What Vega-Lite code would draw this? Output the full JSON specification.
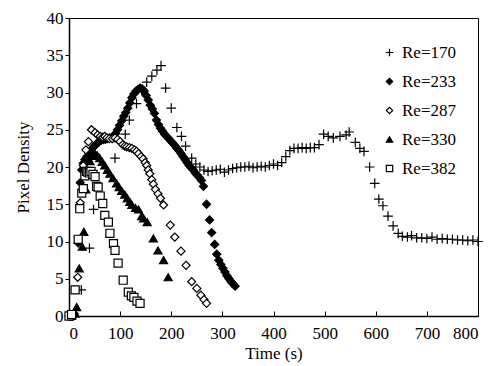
{
  "$schema": "https://vega.github.io/schema/vega-lite/v6.json",
  "width": 409,
  "height": 298,
  "autosize": "none",
  "padding": {"left": 69, "top": 18, "right": 15, "bottom": 50},
  "background": "white",
  "config": {
    "font": "Times New Roman",
    "view": {"stroke": "black", "strokeWidth": 1},
    "style": {"guide-label": {"font": "Times New Roman", "fontSize": 17, "fill": "black"}, "guide-title": {"font": "Times New Roman", "fontSize": 17, "fill": "black", "fontWeight": "normal"}},
    "axis": {"grid": false, "labelFontSize": 17, "titleFontSize": 17, "titleFontWeight": "normal", "labelColor": "black", "titleColor": "black", "domainColor": "black", "domainWidth": 1.5, "tickColor": "black", "labelFont": "Times New Roman", "titleFont": "Times New Roman"},
    "legend": {"labelFontSize": 17, "labelFont": "Times New Roman", "labelColor": "black"}
  },
  "data": {"values": [
    {"s":"Re=170","t":0,"v":0},{"s":"Re=170","t":6,"v":0},{"s":"Re=170","t":10,"v":0.1},{"s":"Re=170","t":24,"v":3.5},{"s":"Re=170","t":40,"v":9.1},{"s":"Re=170","t":48,"v":14.3},{"s":"Re=170","t":90,"v":21.2},{"s":"Re=170","t":110,"v":24.4},{"s":"Re=170","t":118,"v":26.3},{"s":"Re=170","t":132,"v":28.5},{"s":"Re=170","t":142,"v":30.3},{"s":"Re=170","t":152,"v":31.4},{"s":"Re=170","t":162,"v":32.2},{"s":"Re=170","t":172,"v":33.0},{"s":"Re=170","t":180,"v":33.6},{"s":"Re=170","t":189,"v":30.6},{"s":"Re=170","t":200,"v":27.9},{"s":"Re=170","t":211,"v":25.3},{"s":"Re=170","t":220,"v":24.1},{"s":"Re=170","t":228,"v":22.8},{"s":"Re=170","t":240,"v":21.2},{"s":"Re=170","t":248,"v":20.4},{"s":"Re=170","t":256,"v":20.0},{"s":"Re=170","t":264,"v":19.6},{"s":"Re=170","t":272,"v":19.4},{"s":"Re=170","t":280,"v":19.5},{"s":"Re=170","t":288,"v":19.6},{"s":"Re=170","t":296,"v":19.7},{"s":"Re=170","t":304,"v":19.3},{"s":"Re=170","t":312,"v":19.6},{"s":"Re=170","t":320,"v":19.8},{"s":"Re=170","t":328,"v":19.9},{"s":"Re=170","t":336,"v":20.0},{"s":"Re=170","t":344,"v":20.0},{"s":"Re=170","t":352,"v":20.1},{"s":"Re=170","t":360,"v":19.9},{"s":"Re=170","t":368,"v":20.0},{"s":"Re=170","t":376,"v":20.1},{"s":"Re=170","t":384,"v":20.0},{"s":"Re=170","t":392,"v":20.2},{"s":"Re=170","t":400,"v":20.4},{"s":"Re=170","t":408,"v":20.2},{"s":"Re=170","t":416,"v":20.6},{"s":"Re=170","t":424,"v":21.4},{"s":"Re=170","t":432,"v":22.2},{"s":"Re=170","t":440,"v":22.5},{"s":"Re=170","t":448,"v":22.5},{"s":"Re=170","t":456,"v":22.6},{"s":"Re=170","t":464,"v":22.5},{"s":"Re=170","t":472,"v":22.6},{"s":"Re=170","t":480,"v":22.6},{"s":"Re=170","t":489,"v":23.0},{"s":"Re=170","t":498,"v":24.4},{"s":"Re=170","t":507,"v":24.1},{"s":"Re=170","t":517,"v":23.9},{"s":"Re=170","t":530,"v":24.1},{"s":"Re=170","t":542,"v":24.3},{"s":"Re=170","t":548,"v":24.7},{"s":"Re=170","t":560,"v":23.3},{"s":"Re=170","t":569,"v":22.5},{"s":"Re=170","t":577,"v":22.1},{"s":"Re=170","t":588,"v":20.0},{"s":"Re=170","t":598,"v":17.8},{"s":"Re=170","t":606,"v":15.7},{"s":"Re=170","t":614,"v":14.8},{"s":"Re=170","t":624,"v":13.4},{"s":"Re=170","t":634,"v":12.1},{"s":"Re=170","t":644,"v":11.1},{"s":"Re=170","t":652,"v":10.7},{"s":"Re=170","t":662,"v":10.6},{"s":"Re=170","t":670,"v":10.8},{"s":"Re=170","t":680,"v":10.5},{"s":"Re=170","t":690,"v":10.5},{"s":"Re=170","t":700,"v":10.4},{"s":"Re=170","t":710,"v":10.6},{"s":"Re=170","t":720,"v":10.3},{"s":"Re=170","t":730,"v":10.4},{"s":"Re=170","t":740,"v":10.3},{"s":"Re=170","t":750,"v":10.3},{"s":"Re=170","t":760,"v":10.2},{"s":"Re=170","t":770,"v":10.2},{"s":"Re=170","t":780,"v":10.1},{"s":"Re=170","t":790,"v":10.2},{"s":"Re=170","t":800,"v":10.0},
    {"s":"Re=233","t":2,"v":0},{"s":"Re=233","t":8,"v":0},{"s":"Re=233","t":18,"v":9.8},{"s":"Re=233","t":22,"v":17.9},{"s":"Re=233","t":25,"v":19.6},{"s":"Re=233","t":28,"v":20.5},{"s":"Re=233","t":31,"v":21.0},{"s":"Re=233","t":35,"v":21.4},{"s":"Re=233","t":39,"v":21.8},{"s":"Re=233","t":43,"v":22.2},{"s":"Re=233","t":47,"v":22.6},{"s":"Re=233","t":51,"v":22.9},{"s":"Re=233","t":55,"v":23.2},{"s":"Re=233","t":59,"v":23.4},{"s":"Re=233","t":63,"v":23.6},{"s":"Re=233","t":67,"v":23.7},{"s":"Re=233","t":71,"v":23.7},{"s":"Re=233","t":75,"v":23.8},{"s":"Re=233","t":79,"v":23.9},{"s":"Re=233","t":83,"v":23.9},{"s":"Re=233","t":87,"v":24.1},{"s":"Re=233","t":91,"v":24.5},{"s":"Re=233","t":95,"v":25.0},{"s":"Re=233","t":99,"v":25.6},{"s":"Re=233","t":103,"v":26.2},{"s":"Re=233","t":107,"v":26.8},{"s":"Re=233","t":111,"v":27.3},{"s":"Re=233","t":115,"v":27.9},{"s":"Re=233","t":119,"v":28.6},{"s":"Re=233","t":123,"v":29.3},{"s":"Re=233","t":127,"v":29.8},{"s":"Re=233","t":131,"v":30.2},{"s":"Re=233","t":135,"v":30.4},{"s":"Re=233","t":139,"v":30.6},{"s":"Re=233","t":143,"v":30.5},{"s":"Re=233","t":147,"v":30.2},{"s":"Re=233","t":151,"v":29.6},{"s":"Re=233","t":155,"v":29.0},{"s":"Re=233","t":159,"v":28.3},{"s":"Re=233","t":163,"v":27.8},{"s":"Re=233","t":167,"v":27.2},{"s":"Re=233","t":171,"v":26.3},{"s":"Re=233","t":175,"v":25.7},{"s":"Re=233","t":179,"v":25.2},{"s":"Re=233","t":183,"v":24.8},{"s":"Re=233","t":187,"v":24.4},{"s":"Re=233","t":191,"v":24.1},{"s":"Re=233","t":195,"v":23.8},{"s":"Re=233","t":199,"v":23.5},{"s":"Re=233","t":203,"v":23.2},{"s":"Re=233","t":207,"v":22.9},{"s":"Re=233","t":211,"v":22.5},{"s":"Re=233","t":215,"v":22.2},{"s":"Re=233","t":219,"v":21.8},{"s":"Re=233","t":223,"v":21.4},{"s":"Re=233","t":227,"v":21.0},{"s":"Re=233","t":231,"v":20.6},{"s":"Re=233","t":235,"v":20.2},{"s":"Re=233","t":239,"v":19.9},{"s":"Re=233","t":243,"v":19.6},{"s":"Re=233","t":247,"v":19.2},{"s":"Re=233","t":251,"v":18.9},{"s":"Re=233","t":255,"v":18.6},{"s":"Re=233","t":259,"v":18.2},{"s":"Re=233","t":263,"v":17.4},{"s":"Re=233","t":269,"v":15.0},{"s":"Re=233","t":275,"v":12.9},{"s":"Re=233","t":279,"v":11.2},{"s":"Re=233","t":285,"v":9.6},{"s":"Re=233","t":289,"v":8.3},{"s":"Re=233","t":293,"v":7.5},{"s":"Re=233","t":297,"v":6.9},{"s":"Re=233","t":301,"v":6.4},{"s":"Re=233","t":305,"v":5.9},{"s":"Re=233","t":309,"v":5.4},{"s":"Re=233","t":313,"v":5.0},{"s":"Re=233","t":317,"v":4.6},{"s":"Re=233","t":321,"v":4.3},{"s":"Re=233","t":325,"v":4.0},
    {"s":"Re=287","t":4,"v":0},{"s":"Re=287","t":10,"v":0.3},{"s":"Re=287","t":17,"v":5.2},{"s":"Re=287","t":22,"v":15.2},{"s":"Re=287","t":28,"v":20.2},{"s":"Re=287","t":33,"v":22.3},{"s":"Re=287","t":38,"v":23.4},{"s":"Re=287","t":44,"v":25.0},{"s":"Re=287","t":51,"v":24.6},{"s":"Re=287","t":56,"v":24.3},{"s":"Re=287","t":61,"v":24.1},{"s":"Re=287","t":66,"v":24.0},{"s":"Re=287","t":70,"v":24.1},{"s":"Re=287","t":74,"v":23.9},{"s":"Re=287","t":79,"v":23.8},{"s":"Re=287","t":85,"v":23.8},{"s":"Re=287","t":90,"v":23.9},{"s":"Re=287","t":95,"v":23.7},{"s":"Re=287","t":100,"v":23.4},{"s":"Re=287","t":105,"v":23.0},{"s":"Re=287","t":109,"v":22.8},{"s":"Re=287","t":113,"v":22.7},{"s":"Re=287","t":118,"v":22.6},{"s":"Re=287","t":123,"v":22.5},{"s":"Re=287","t":128,"v":22.3},{"s":"Re=287","t":132,"v":22.1},{"s":"Re=287","t":136,"v":21.8},{"s":"Re=287","t":141,"v":21.4},{"s":"Re=287","t":145,"v":21.1},{"s":"Re=287","t":149,"v":20.6},{"s":"Re=287","t":152,"v":20.2},{"s":"Re=287","t":155,"v":19.6},{"s":"Re=287","t":158,"v":19.1},{"s":"Re=287","t":162,"v":18.3},{"s":"Re=287","t":165,"v":17.7},{"s":"Re=287","t":169,"v":17.0},{"s":"Re=287","t":174,"v":16.4},{"s":"Re=287","t":179,"v":15.8},{"s":"Re=287","t":185,"v":14.9},{"s":"Re=287","t":198,"v":12.2},{"s":"Re=287","t":207,"v":10.6},{"s":"Re=287","t":219,"v":8.7},{"s":"Re=287","t":229,"v":6.8},{"s":"Re=287","t":240,"v":4.6},{"s":"Re=287","t":250,"v":3.7},{"s":"Re=287","t":258,"v":2.8},{"s":"Re=287","t":264,"v":2.2},{"s":"Re=287","t":269,"v":1.7},
    {"s":"Re=330","t":5,"v":0},{"s":"Re=330","t":12,"v":0.3},{"s":"Re=330","t":15,"v":1.2},{"s":"Re=330","t":20,"v":6.4},{"s":"Re=330","t":26,"v":9.3},{"s":"Re=330","t":29,"v":11.3},{"s":"Re=330","t":33,"v":17.0},{"s":"Re=330","t":37,"v":19.5},{"s":"Re=330","t":41,"v":20.8},{"s":"Re=330","t":45,"v":21.5},{"s":"Re=330","t":50,"v":21.8},{"s":"Re=330","t":55,"v":21.6},{"s":"Re=330","t":60,"v":21.2},{"s":"Re=330","t":65,"v":20.7},{"s":"Re=330","t":70,"v":20.2},{"s":"Re=330","t":75,"v":19.6},{"s":"Re=330","t":80,"v":19.1},{"s":"Re=330","t":86,"v":18.5},{"s":"Re=330","t":93,"v":17.8},{"s":"Re=330","t":98,"v":17.3},{"s":"Re=330","t":103,"v":16.8},{"s":"Re=330","t":109,"v":16.3},{"s":"Re=330","t":114,"v":15.8},{"s":"Re=330","t":119,"v":15.3},{"s":"Re=330","t":123,"v":14.9},{"s":"Re=330","t":130,"v":14.5},{"s":"Re=330","t":136,"v":14.3},{"s":"Re=330","t":142,"v":13.4},{"s":"Re=330","t":146,"v":13.1},{"s":"Re=330","t":153,"v":12.6},{"s":"Re=330","t":165,"v":10.4},{"s":"Re=330","t":174,"v":8.8},{"s":"Re=330","t":185,"v":7.5},{"s":"Re=330","t":194,"v":5.2},
    {"s":"Re=382","t":0,"v":0},{"s":"Re=382","t":5,"v":0.2},{"s":"Re=382","t":12,"v":3.5},{"s":"Re=382","t":18,"v":10.3},{"s":"Re=382","t":21,"v":14.4},{"s":"Re=382","t":25,"v":16.5},{"s":"Re=382","t":28,"v":17.1},{"s":"Re=382","t":31,"v":18.8},{"s":"Re=382","t":34,"v":19.4},{"s":"Re=382","t":37,"v":19.3},{"s":"Re=382","t":40,"v":19.2},{"s":"Re=382","t":43,"v":19.4},{"s":"Re=382","t":47,"v":19.0},{"s":"Re=382","t":51,"v":18.7},{"s":"Re=382","t":54,"v":17.4},{"s":"Re=382","t":57,"v":17.3},{"s":"Re=382","t":61,"v":16.1},{"s":"Re=382","t":66,"v":15.1},{"s":"Re=382","t":70,"v":13.5},{"s":"Re=382","t":77,"v":12.6},{"s":"Re=382","t":80,"v":11.1},{"s":"Re=382","t":87,"v":9.7},{"s":"Re=382","t":90,"v":8.8},{"s":"Re=382","t":96,"v":7.1},{"s":"Re=382","t":106,"v":4.8},{"s":"Re=382","t":116,"v":3.2},{"s":"Re=382","t":122,"v":2.7},{"s":"Re=382","t":127,"v":2.5},{"s":"Re=382","t":133,"v":2.0},{"s":"Re=382","t":139,"v":1.7}
  ]},
  "mark": {"type": "point", "size": 65, "strokeWidth": 1.2, "opacity": 1},
  "encoding": {
    "x": {"field": "t", "type": "quantitative", "title": "Time (s)",
      "scale": {"domain": [0, 800], "nice": false},
      "axis": {"values": [0,100,200,300,400,500,600,700,800], "tickSize": -5, "labelPadding": 14, "titlePadding": 4, "labelFont": "Times New Roman", "titleFont": "Times New Roman", "labelFontSize": 17, "titleFontSize": 17}},
    "y": {"field": "v", "type": "quantitative", "title": "Pixel Density",
      "scale": {"domain": [0, 40], "nice": false},
      "axis": {"values": [0,5,10,15,20,25,30,35,40], "tickSize": 4, "labelPadding": 2, "titlePadding": 14, "labelFont": "Times New Roman", "titleFont": "Times New Roman", "labelFontSize": 17, "titleFontSize": 17}},
    "shape": {"field": "s", "type": "nominal",
      "scale": {"domain": ["Re=170","Re=233","Re=287","Re=330","Re=382"], "range": ["M-1.2,0H1.2M0,-1.2V1.2", "diamond", "diamond", "triangle-up", "square"]},
      "legend": {"orient": "none", "legendX": 312, "legendY": 26, "title": null, "symbolSize": 40, "rowPadding": 11, "padding": 0, "symbolStrokeWidth": 1.2, "labelFontSize": 17}},
    "fill": {"field": "s", "type": "nominal",
      "scale": {"domain": ["Re=170","Re=233","Re=287","Re=330","Re=382"], "range": ["black", "black", "white", "black", "white"]},
      "legend": {"orient": "none", "legendX": 312, "legendY": 26, "title": null, "symbolSize": 40, "rowPadding": 11, "padding": 0, "symbolStrokeWidth": 1.2, "labelFontSize": 17}},
    "stroke": {"field": "s", "type": "nominal",
      "scale": {"domain": ["Re=170","Re=233","Re=287","Re=330","Re=382"], "range": ["black", "black", "black", "black", "black"]},
      "legend": {"orient": "none", "legendX": 312, "legendY": 26, "title": null, "symbolSize": 40, "rowPadding": 11, "padding": 0, "symbolStrokeWidth": 1.2, "labelFontSize": 17}}
  }
}
